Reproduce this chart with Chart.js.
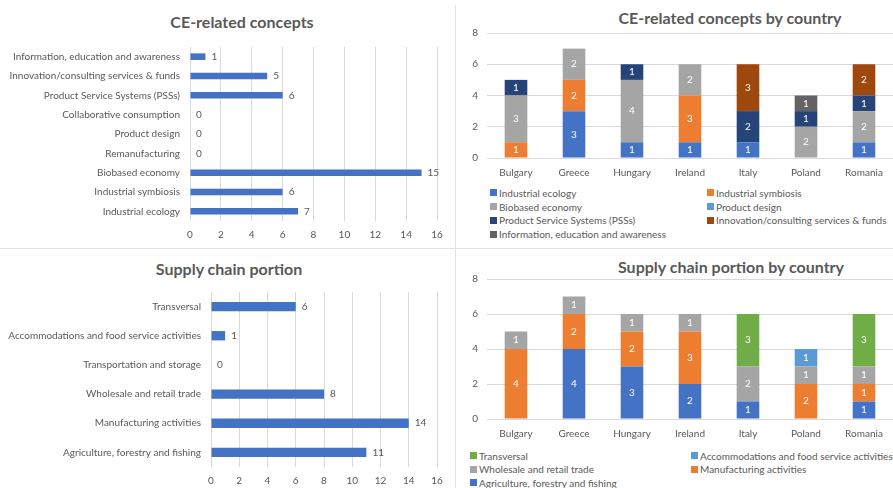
<!DOCTYPE html>
<html lang="en">
<head>
    <meta charset="UTF-8">
    <title>CE-related concepts and supply chain portion</title>
    <style>
        body {
            margin: 0;
            width: 893px;
            height: 488px;
            background: #fff;
            overflow: hidden;
            position: relative;
            font-family: Lato, "Liberation Sans", Arial, sans-serif;
            color: #595959;
        }
        canvas, .title, .legend, .rule {
            position: absolute;
        }
        .title {
            font-weight: bold;
            font-size: 16px;
            white-space: nowrap;
            transform: translate(-50%, -50%);
        }
        .rule {
            background: #e3e3e3;
        }
        .legend {
            display: grid;
            font-size: 10px;
            white-space: nowrap;
        }
        .legend span {
            display: flex;
            align-items: center;
        }
        .legend i {
            width: 7px;
            height: 7px;
            margin-right: 2px;
            display: inline-block;
        }
    </style>
</head>
<body>
    <div class="rule" style="left:455px;top:5px;width:1px;height:483px"></div>
    <div class="rule" style="left:0;top:248px;width:893px;height:1px"></div>

    <div class="title" style="left:242px;top:21px">CE-related concepts</div>
    <div class="title" style="left:730px;top:17px">CE-related concepts by country</div>
    <div class="title" style="left:229px;top:268px">Supply chain portion</div>
    <div class="title" style="left:731px;top:266px">Supply chain portion by country</div>

    <canvas id="ceTotal" width="452" height="205" style="left:0;top:40px"></canvas>
    <canvas id="ceCountry" width="437" height="160" style="left:456px;top:25px"></canvas>
    <canvas id="scTotal" width="452" height="203" style="left:0;top:285px"></canvas>
    <canvas id="scCountry" width="437" height="175" style="left:456px;top:270px"></canvas>

    <div class="legend" id="ceLegend" style="left:490px;top:186px;grid-template-columns:217px auto;grid-auto-rows:13.8px"></div>
    <div class="legend" id="scLegend" style="left:470px;top:449px;grid-template-columns:221px auto;grid-auto-rows:13.6px"></div>

    <script src="https://cdn.jsdelivr.net/npm/chart.js"></script>
    <script>
        // ---- data ----
        const countries = ['Bulgary', 'Greece', 'Hungary', 'Ireland', 'Italy', 'Poland', 'Romania'];

        const ceConcepts = [
            'Information, education and awareness',
            'Innovation/consulting services & funds',
            'Product Service Systems (PSSs)',
            'Collaborative consumption',
            'Product design',
            'Remanufacturing',
            'Biobased economy',
            'Industrial symbiosis',
            'Industrial ecology'
        ];
        const ceTotals = [1, 5, 6, 0, 0, 0, 15, 6, 7];

        const ceIndustrialEcology = [0, 3, 1, 1, 1, 0, 1];
        const ceIndustrialSymbiosis = [1, 2, 0, 3, 0, 0, 0];
        const ceBiobased = [3, 2, 4, 2, 0, 2, 2];
        const ceProductDesign = [0, 0, 0, 0, 0, 0, 0];
        const cePss = [1, 0, 1, 0, 2, 1, 1];
        const ceInnovation = [0, 0, 0, 0, 3, 0, 2];
        const ceInformation = [0, 0, 0, 0, 0, 1, 0];

        const scPortions = [
            'Transversal',
            'Accommodations and food service activities',
            'Transportation and storage',
            'Wholesale and retail trade',
            'Manufacturing activities',
            'Agriculture, forestry and fishing'
        ];
        const scTotals = [6, 1, 0, 8, 14, 11];

        const scAgriculture = [0, 4, 3, 2, 1, 0, 1];
        const scManufacturing = [4, 2, 2, 3, 0, 2, 1];
        const scWholesale = [1, 1, 1, 1, 2, 1, 1];
        const scAccommodations = [0, 0, 0, 0, 0, 1, 0];
        const scTransversal = [0, 0, 0, 0, 3, 0, 3];

        // ---- style ----
        const FONT = 'Lato, "Liberation Sans", Arial, sans-serif';
        const TEXT = '#595959';
        const GRID = '#d9d9d9';
        const BLUE = '#4472C4';

        const valueLabels = {
            id: 'valueLabels',
            afterDatasetsDraw(chart, args, opts) {
                const ctx = chart.ctx;
                ctx.save();
                ctx.font = '10px ' + FONT;
                ctx.textBaseline = 'middle';
                chart.data.datasets.forEach((ds, di) => {
                    chart.getDatasetMeta(di).data.forEach((bar, i) => {
                        const v = ds.data[i];
                        if (opts.inside) {
                            if (!v) return;
                            const c = bar.getCenterPoint();
                            ctx.fillStyle = '#fff';
                            ctx.textAlign = 'center';
                            ctx.fillText(v, c.x, c.y);
                        } else {
                            ctx.fillStyle = TEXT;
                            ctx.textAlign = 'left';
                            ctx.fillText(v, bar.x + 6, bar.y);
                        }
                    });
                });
                ctx.restore();
            }
        };

        // drop the half-label padding chart.js adds around axes
        function fixX(h) {
            return s => { s.height = h; s.paddingLeft = 0; s.paddingRight = 0; };
        }
        function fixY(w) {
            return s => { s.width = w; s.paddingTop = 0; s.paddingBottom = 0; };
        }

        function hBar(id, labels, values, labelWidth, axisHeight, barPct) {
            return new Chart(document.getElementById(id), {
                type: 'bar',
                data: {
                    labels: labels,
                    datasets: [{ data: values, backgroundColor: BLUE, categoryPercentage: 1, barPercentage: barPct }]
                },
                options: {
                    indexAxis: 'y',
                    responsive: false,
                    animation: false,
                    layout: { padding: { top: 7, right: 15 } },
                    plugins: { legend: { display: false }, tooltip: { enabled: false }, valueLabels: { inside: false } },
                    scales: {
                        x: {
                            min: 0, max: 16,
                            ticks: { stepSize: 2, color: TEXT, font: { family: FONT, size: 10 }, padding: 8 },
                            grid: { color: GRID, drawTicks: false },
                            border: { display: false },
                            afterFit: fixX(axisHeight)
                        },
                        y: {
                            ticks: { color: TEXT, font: { family: FONT, size: 10 }, padding: 10, autoSkip: false },
                            grid: { display: false, drawTicks: false },
                            border: { display: false },
                            afterFit: fixY(labelWidth)
                        }
                    }
                },
                plugins: [valueLabels]
            });
        }

        function stacked(id, sets, topPad, axisHeight) {
            return new Chart(document.getElementById(id), {
                type: 'bar',
                data: {
                    labels: countries,
                    datasets: sets.map(s => ({
                        label: s[0], data: s[1], backgroundColor: s[2],
                        categoryPercentage: 1, barPercentage: 0.39
                    }))
                },
                options: {
                    responsive: false,
                    animation: false,
                    layout: { padding: { top: topPad } },
                    plugins: { legend: { display: false }, tooltip: { enabled: false }, valueLabels: { inside: true } },
                    scales: {
                        x: {
                            stacked: true,
                            ticks: { color: TEXT, font: { family: FONT, size: 10 }, padding: 9 },
                            grid: { display: false, drawTicks: false },
                            border: { display: false },
                            afterFit: fixX(axisHeight)
                        },
                        y: {
                            stacked: true,
                            min: 0, max: 8,
                            ticks: { stepSize: 2, color: TEXT, font: { family: FONT, size: 10 }, padding: 9 },
                            grid: { color: GRID, drawTicks: false },
                            border: { display: false },
                            afterFit: fixY(31)
                        }
                    }
                },
                plugins: [valueLabels]
            });
        }

        function htmlLegend(id, items) {
            document.getElementById(id).innerHTML = items.map(d =>
                `<span><i style="background:${d.backgroundColor}"></i>${d.label}</span>`
            ).join('');
        }

        hBar('ceTotal', ceConcepts, ceTotals, 190, 24, 0.34);
        hBar('scTotal', scPortions, scTotals, 211, 21, 0.32);

        const ceChart = stacked('ceCountry', [
            ['Industrial ecology', ceIndustrialEcology, '#4472C4'],
            ['Industrial symbiosis', ceIndustrialSymbiosis, '#ED7D31'],
            ['Biobased economy', ceBiobased, '#A5A5A5'],
            ['Product design', ceProductDesign, '#5B9BD5'],
            ['Product Service Systems (PSSs)', cePss, '#264478'],
            ['Innovation/consulting services & funds', ceInnovation, '#9E480E'],
            ['Information, education and awareness', ceInformation, '#636363']
        ], 8, 27);
        htmlLegend('ceLegend', ceChart.data.datasets);

        const scChart = stacked('scCountry', [
            ['Agriculture, forestry and fishing', scAgriculture, '#4472C4'],
            ['Manufacturing activities', scManufacturing, '#ED7D31'],
            ['Wholesale and retail trade', scWholesale, '#A5A5A5'],
            ['Accommodations and food service activities', scAccommodations, '#5B9BD5'],
            ['Transversal', scTransversal, '#70AD47']
        ], 9, 26);
        htmlLegend('scLegend', scChart.data.datasets.slice().reverse());
    </script>
</body>
</html>
